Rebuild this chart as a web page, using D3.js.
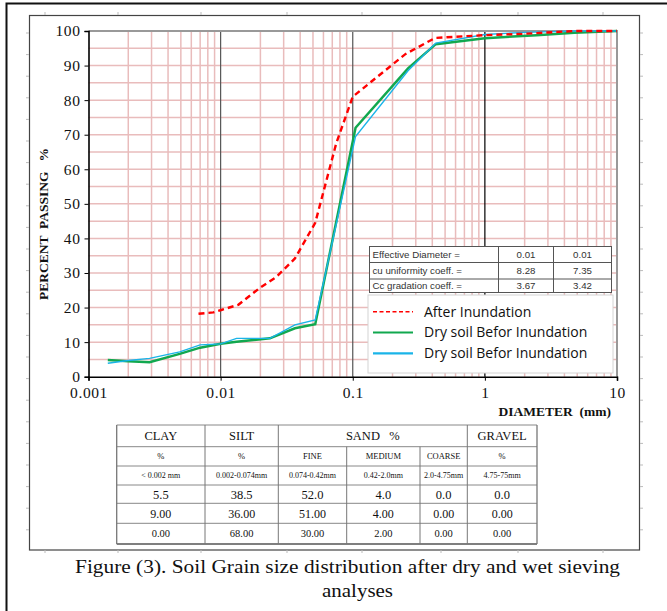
<!DOCTYPE html>
<html>
<head>
<meta charset="utf-8">
<script src="https://cdn.jsdelivr.net/npm/d3@7/dist/d3.min.js"></script>
<style>
  body { margin: 0; background: #fff; }
  text { white-space: pre; }
</style>
</head>
<body>
<div id="canvas"></div>
<script>
var w = 667;
var h = 611;

// ---- data ----
var xTicks = [0.001, 0.01, 0.1, 1, 10];
var yTicks = [0, 10, 20, 30, 40, 50, 60, 70, 80, 90, 100];

// [diameter mm, percent passing]
var afterInundation = [
  [0.0068, 18.2], [0.0088, 18.6], [0.0101, 19.3], [0.0136, 20.8], [0.0198, 25.7],
  [0.0265, 28.9], [0.0365, 34.2], [0.052, 44.5], [0.075, 67.5], [0.1, 81],
  [0.25, 93.3], [0.42, 98], [1, 98.8], [2, 99.2], [4.75, 100], [10, 100]
];
var drySoilA = [
  [0.0014, 4.8], [0.002, 4.5], [0.0029, 4.2], [0.0049, 6.6], [0.007, 8.4], [0.01, 9.5],
  [0.0132, 10.1], [0.0236, 11.1], [0.0365, 14], [0.052, 15.2], [0.105, 72],
  [0.262, 89.2], [0.425, 96.2], [1, 97.9], [2.46, 98.8], [4.75, 99.5], [10, 100]
];
var drySoilB = [
  [0.0014, 3.9], [0.002, 4.7], [0.0029, 5.3], [0.0049, 7.2], [0.007, 9.2], [0.01, 9.5],
  [0.0132, 11.1], [0.0236, 11.1], [0.0365, 15], [0.052, 16.4], [0.105, 69.5],
  [0.262, 88.5], [0.425, 96.5], [1, 99.0], [2, 99.6], [4.75, 100], [10, 100]
];

var seriesNames = ["After Inundation", "Dry soil Befor Inundation", "Dry soil Befor Inundation"];

var coeffLabels = ["Effective Diameter =", "cu uniformity coeff. =", "Cc gradation coeff. ="];
var coeffA = ["0.01", "8.28", "3.67"];
var coeffB = ["0.01", "7.35", "3.42"];

var classRow = ["CLAY", "SILT", "SAND   %", "GRAVEL"];
var unitRow = ["%", "%", "FINE", "MEDIUM", "COARSE", "%"];
var rangeRow = ["< 0.002 mm", "0.002-0.074mm", "0.074-0.42mm", "0.42-2.0mm", "2.0-4.75mm", "4.75-75mm"];
var fractionsA = ["5.5", "38.5", "52.0", "4.0", "0.0", "0.0"];
var fractionsB = ["9.00", "36.00", "51.00", "4.00", "0.00", "0.00"];
var fractionsC = ["0.00", "68.00", "30.00", "2.00", "0.00", "0.00"];

var caption = ["Figure (3). Soil Grain size distribution after dry and wet sieving", "analyses"];

// ---- setup ----
var serif = "'Liberation Serif', 'Times New Roman', serif";
var sans = "'Liberation Sans', Arial, sans-serif";

var xScale = d3.scaleLog()
               .domain([0.001, 10])
               .range([88.5, 617]);

var yScale = d3.scaleLinear()
               .domain([0, 100])
               .range([376.7, 31]);

var canvas = d3.select("#canvas")
               .append("svg")
               .attr("width", w)
               .attr("height", h)
               .style("display", "block")
               .style("background-color", "white");

// outer page frame (top + left)
canvas.append("path")
    .attr("d", "M 6.5 611 L 6.5 3.5 L 667 3.5")
    .attr("fill", "none")
    .attr("stroke", "#111")
    .attr("stroke-width", 2);

// inner chart box
canvas.append("rect")
    .attr("x", 29.5).attr("y", 15.5)
    .attr("width", 610).attr("height", 534.5)
    .attr("fill", "none")
    .attr("stroke", "#444")
    .attr("stroke-width", 1.2);

// faint tick marks on the chart box
var boxTicks = canvas.append("g").attr("stroke", "#bbb").attr("stroke-width", 1);
[45, 118, 201, 287, 362, 441, 518, 603].forEach(function (x) {
  boxTicks.append("line").attr("x1", x).attr("x2", x).attr("y1", 12).attr("y2", 15);
  boxTicks.append("line").attr("x1", x).attr("x2", x).attr("y1", 550).attr("y2", 553);
});
d3.range(33, 550, 21.6).forEach(function (y) {
  boxTicks.append("line").attr("x1", 26).attr("x2", 29).attr("y1", y).attr("y2", y);
  boxTicks.append("line").attr("x1", 640).attr("x2", 643).attr("y1", y).attr("y2", y);
});

// ---- grid ----
var grid = canvas.append("g");
var minorX = [];
xTicks.slice(0, -1).forEach(function (d) {
  for (var k = 2; k <= 9; k++) minorX.push(d * k);
});

grid.selectAll(".hgrid")
    .data(d3.range(5, 100, 5))
    .join("line")
    .attr("x1", xScale(0.001)).attr("x2", xScale(10))
    .attr("y1", d => yScale(d)).attr("y2", d => yScale(d))
    .attr("stroke", "#e9bcbc")
    .attr("stroke-width", 1.5);

grid.selectAll(".vgrid")
    .data(minorX)
    .join("line")
    .attr("x1", d => xScale(d)).attr("x2", d => xScale(d))
    .attr("y1", yScale(0)).attr("y2", yScale(100))
    .attr("stroke", "#e9bcbc")
    .attr("stroke-width", 1.5);

grid.selectAll(".major")
    .data([0.01, 0.1, 1])
    .join("line")
    .attr("x1", d => xScale(d)).attr("x2", d => xScale(d))
    .attr("y1", yScale(0)).attr("y2", yScale(100))
    .attr("stroke", d => d === 1 ? "#000" : "#555")
    .attr("stroke-width", 1.2);

// top and right borders of plot
canvas.append("path")
    .attr("d", `M ${xScale(0.001)} ${yScale(100)} L ${xScale(10)} ${yScale(100)} L ${xScale(10)} ${yScale(0)}`)
    .attr("fill", "none")
    .attr("stroke", "#999")
    .attr("stroke-width", 2);

// ---- axes ----
var xAxis = d3.axisBottom(xScale)
    .tickValues(xTicks)
    .tickFormat(d => String(d))
    .tickSize(4)
    .tickPadding(6);
var yAxis = d3.axisLeft(yScale)
    .tickValues(yTicks)
    .tickSize(4)
    .tickPadding(4);

var gx = canvas.append("g")
    .attr("transform", `translate(0, ${yScale(0)})`)
    .call(xAxis);
var gy = canvas.append("g")
    .attr("transform", `translate(${xScale(0.001)}, 0)`)
    .call(yAxis);

[gx, gy].forEach(function (g) {
  g.select(".domain").attr("stroke", "#000").attr("stroke-width", 1.6);
  g.selectAll(".tick line").attr("stroke", "#000");
  g.selectAll(".tick text")
    .attr("fill", "#111")
    .style("font-family", serif)
    .style("font-size", "15.5px")
    .style("letter-spacing", "0.6px");
});

canvas.append("text")
    .attr("transform", "translate(48, 224) rotate(-90)")
    .attr("text-anchor", "middle")
    .style("font-family", serif)
    .style("font-weight", "bold")
    .style("font-size", "13.5px")
    .attr("fill", "#111")
    .text("PERCENT  PASSING   %");

canvas.append("text")
    .attr("x", 611)
    .attr("y", 416)
    .attr("text-anchor", "end")
    .style("font-family", serif)
    .style("font-weight", "bold")
    .style("font-size", "13.5px")
    .attr("fill", "#111")
    .text("DIAMETER  (mm)");

// ---- curves ----
var line = d3.line()
    .x(d => xScale(d[0]))
    .y(d => yScale(d[1]));

canvas.append("path")
    .datum(drySoilA)
    .attr("d", line)
    .attr("fill", "none")
    .attr("stroke", "#11a84f")
    .attr("stroke-width", 2.5);

canvas.append("path")
    .datum(drySoilB)
    .attr("d", line)
    .attr("fill", "none")
    .attr("stroke", "#1ab4e8")
    .attr("stroke-width", 1.4);

canvas.append("path")
    .datum(afterInundation)
    .attr("d", line)
    .attr("fill", "none")
    .attr("stroke", "#ff0000")
    .attr("stroke-width", 2.4)
    .attr("stroke-dasharray", "6,4");

// ---- coefficient inset table ----
var inset = canvas.append("g").attr("transform", "translate(369.5, 246.5)");
var insetRows = [0, 16, 32.5, 46];
var insetCols = [0, 129, 184, 242];

inset.append("rect")
    .attr("width", insetCols[3]).attr("height", insetRows[3])
    .attr("fill", "white").attr("stroke", "#555").attr("stroke-width", 1);
insetRows.slice(1, 3).forEach(function (y) {
  inset.append("line").attr("x1", 0).attr("x2", insetCols[3]).attr("y1", y).attr("y2", y)
    .attr("stroke", "#555");
});
insetCols.slice(1, 3).forEach(function (x) {
  inset.append("line").attr("x1", x).attr("x2", x).attr("y1", 0).attr("y2", insetRows[3])
    .attr("stroke", "#555");
});
coeffLabels.forEach(function (lab, i) {
  var cy = (insetRows[i] + insetRows[i + 1]) / 2;
  inset.append("text").attr("x", 3).attr("y", cy).attr("dy", "0.35em")
    .style("font-family", sans).style("font-size", "9.7px").attr("fill", "#333").text(lab);
  inset.append("text").attr("x", (insetCols[1] + insetCols[2]) / 2).attr("y", cy).attr("dy", "0.35em")
    .attr("text-anchor", "middle")
    .style("font-family", sans).style("font-size", "9.7px").attr("fill", "#333").text(coeffA[i]);
  inset.append("text").attr("x", (insetCols[2] + insetCols[3]) / 2).attr("y", cy).attr("dy", "0.35em")
    .attr("text-anchor", "middle")
    .style("font-family", sans).style("font-size", "9.7px").attr("fill", "#333").text(coeffB[i]);
});

// ---- legend ----
var legend = canvas.append("g").attr("class", "legend").attr("transform", "translate(368, 295)");
legend.append("rect")
    .attr("width", 245).attr("height", 78)
    .attr("fill", "white").attr("stroke", "#d4d4d4").attr("stroke-width", 1);

var legendStyles = [
  { color: "#ff0000", dash: "4,2.5", width: 1.6 },
  { color: "#11a84f", dash: null, width: 2.2 },
  { color: "#1ab4e8", dash: null, width: 2.2 }
];
seriesNames.forEach(function (name, i) {
  var cy = 16.7 + i * 20.8;
  legend.append("line")
      .attr("x1", 5).attr("x2", 45).attr("y1", cy).attr("y2", cy)
      .attr("stroke", legendStyles[i].color)
      .attr("stroke-width", legendStyles[i].width)
      .attr("stroke-dasharray", legendStyles[i].dash);
  legend.append("text")
      .attr("x", 56).attr("y", cy).attr("dy", "0.35em")
      .style("font-family", "'Open Sans', sans-serif")
      .style("font-size", "14px")
      .attr("fill", "#111")
      .text(name);
});

// ---- grain size table ----
var colX = [116.7, 205, 278.3, 346.7, 420, 467.3, 537];
var rowY = [425, 446.7, 466, 485, 503.3, 523.3, 544];
var tbl = canvas.append("g");

rowY.forEach(function (y, i) {
  tbl.append("line").attr("x1", colX[0]).attr("x2", colX[6]).attr("y1", y).attr("y2", y)
    .attr("stroke", i === 6 ? "#555" : "#888").attr("stroke-width", i === 6 ? 1.6 : 1);
});
colX.forEach(function (x, j) {
  var top = (j === 3 || j === 4) ? rowY[1] : rowY[0];
  tbl.append("line").attr("x1", x).attr("x2", x).attr("y1", top).attr("y2", rowY[6])
    .attr("stroke", "#777").attr("stroke-width", (j === 0 || j === 6) ? 1.3 : 1);
});

var headCenters = [(colX[0] + colX[1]) / 2, (colX[1] + colX[2]) / 2, (colX[2] + colX[5]) / 2, (colX[5] + colX[6]) / 2];
classRow.forEach(function (t, j) {
  tbl.append("text").attr("x", headCenters[j]).attr("y", (rowY[0] + rowY[1]) / 2).attr("dy", "0.35em")
    .attr("text-anchor", "middle").style("font-family", serif).style("font-size", "12.5px")
    .attr("fill", "#111").text(t);
});

var bodyRows = [
  { vals: unitRow, size: "8.5px" },
  { vals: rangeRow, size: "8px" },
  { vals: fractionsA, size: "12.5px" },
  { vals: fractionsB, size: "12px" },
  { vals: fractionsC, size: "10.5px" }
];
bodyRows.forEach(function (r, i) {
  var cy = (rowY[i + 1] + rowY[i + 2]) / 2;
  r.vals.forEach(function (t, j) {
    tbl.append("text").attr("x", (colX[j] + colX[j + 1]) / 2).attr("y", cy).attr("dy", "0.35em")
      .attr("text-anchor", "middle").style("font-family", serif).style("font-size", r.size)
      .attr("fill", "#111").text(t);
  });
});

// ---- caption ----
var captionWidths = [545, 71];
canvas.selectAll(".caption")
    .data(caption)
    .join("text")
    .attr("x", (d, i) => i === 0 ? 347.5 : 357.5)
    .attr("y", (d, i) => 566 + i * 24)
    .attr("dy", "0.35em")
    .attr("text-anchor", "middle")
    .attr("textLength", (d, i) => captionWidths[i])
    .attr("lengthAdjust", "spacingAndGlyphs")
    .style("font-family", serif)
    .style("font-size", "19.5px")
    .attr("fill", "#111")
    .text(d => d);
</script>
</body>
</html>
